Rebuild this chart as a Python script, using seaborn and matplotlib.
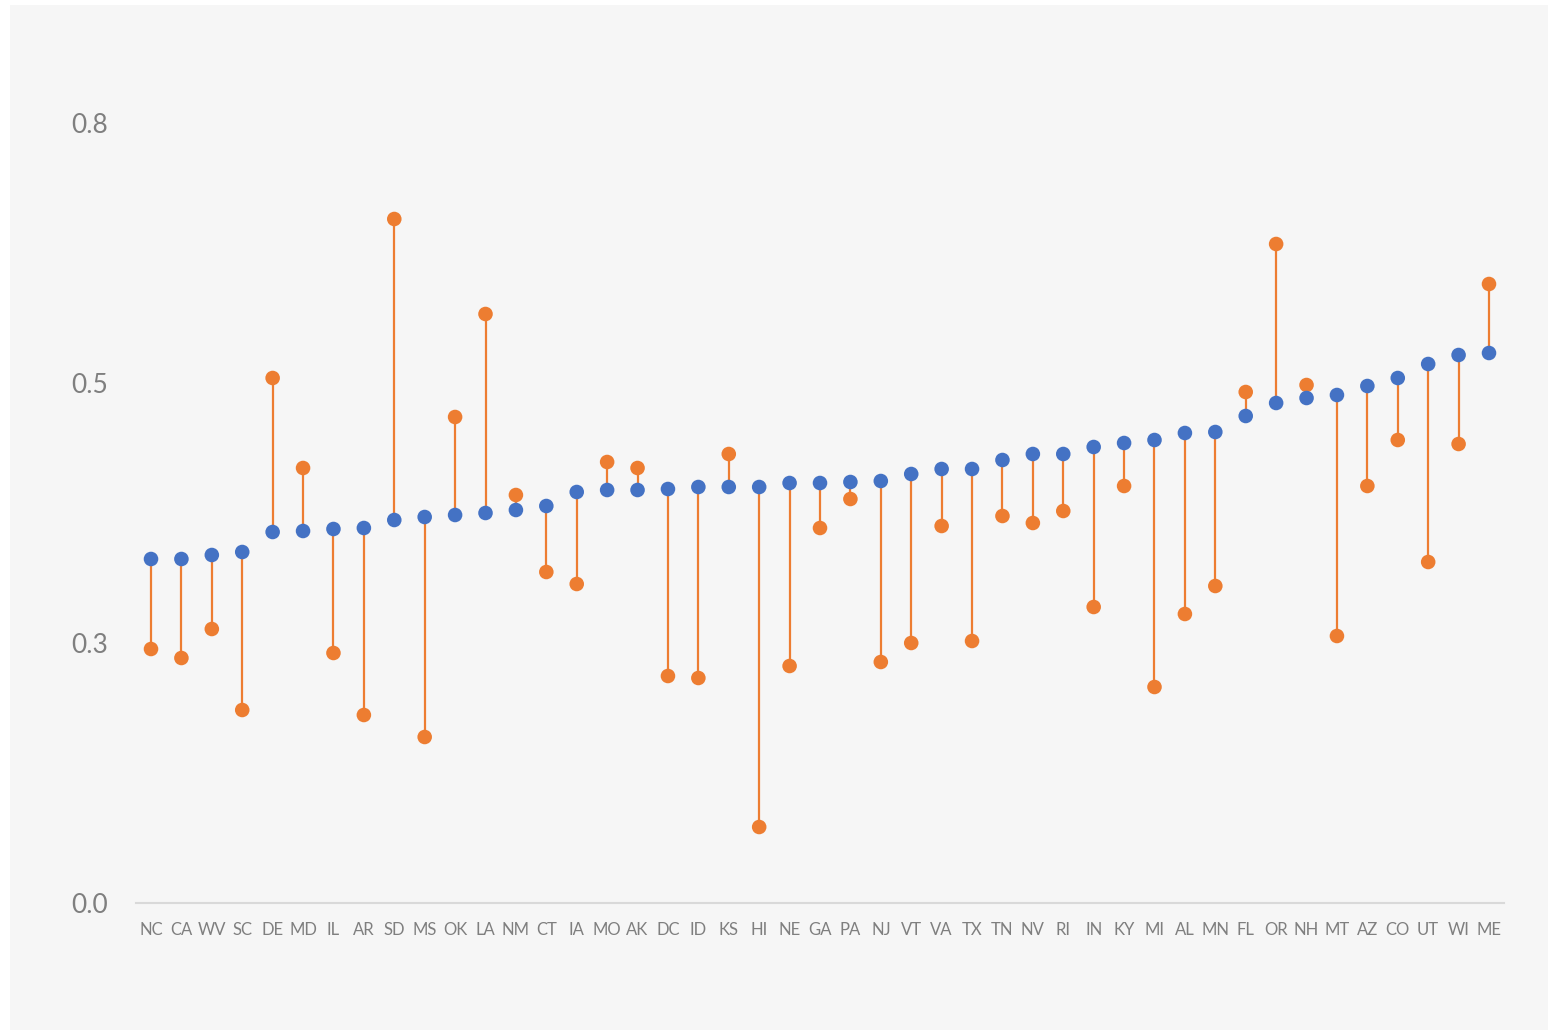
import numpy as np
import pandas as pd
import matplotlib
matplotlib.use("Agg")
import matplotlib.pyplot as plt
from matplotlib.patches import Rectangle
import seaborn as sns

states = ['NC', 'CA', 'WV', 'SC', 'DE', 'MD', 'IL', 'AR', 'SD', 'MS', 'OK', 'LA', 'NM',
          'CT', 'IA', 'MO', 'AK', 'DC', 'ID', 'KS', 'HI', 'NE', 'GA', 'PA', 'NJ', 'VT',
          'VA', 'TX', 'TN', 'NV', 'RI', 'IN', 'KY', 'MI', 'AL', 'MN', 'FL', 'OR', 'NH',
          'MT', 'AZ', 'CO', 'UT', 'WI', 'ME']
blue_vals = [0.344, 0.344, 0.348, 0.351, 0.371, 0.372, 0.374, 0.375, 0.383, 0.386, 0.388, 0.390, 0.393,
             0.397, 0.411, 0.413, 0.413, 0.414, 0.416, 0.416, 0.416, 0.420, 0.420, 0.421, 0.422, 0.429,
             0.434, 0.434, 0.443, 0.449, 0.449, 0.456, 0.460, 0.463, 0.470, 0.471, 0.487, 0.500, 0.505,
             0.508, 0.517, 0.525, 0.539, 0.548, 0.550]
orange_vals = [0.254, 0.245, 0.274, 0.193, 0.525, 0.435, 0.250, 0.188, 0.684, 0.166, 0.486, 0.589, 0.408,
               0.331, 0.319, 0.441, 0.435, 0.227, 0.225, 0.449, 0.076, 0.237, 0.375, 0.404, 0.241, 0.260,
               0.377, 0.262, 0.387, 0.380, 0.392, 0.296, 0.417, 0.216, 0.289, 0.317, 0.511, 0.659, 0.518,
               0.267, 0.417, 0.463, 0.341, 0.459, 0.619]
ytick_vals = [0.0, 0.26, 0.52, 0.78]

BLUE = '#4472C4'
ORANGE = '#ED7D31'
BG = '#F6F6F6'
GREY = '#7F7F7F'

df = pd.DataFrame({'state': states, 'blue': blue_vals, 'orange': orange_vals})
df['x'] = np.arange(len(df))

sns.set_style('white')
plt.rcParams['font.family'] = ['Lato', 'DejaVu Sans']

fig = plt.figure(figsize=(15.58, 10.36), dpi=100)
fig.patch.set_facecolor('white')
fig.patches.append(Rectangle((10 / 1558, 1 - 1030 / 1036), 1538 / 1558, 1025 / 1036,
                             transform=fig.transFigure, facecolor=BG, edgecolor='none', zorder=-5))

ax = fig.add_axes([135.8 / 1558, 1 - 903 / 1036, (1504.2 - 135.8) / 1558, 880 / 1036])
ax.set_facecolor('none')
ax.set_zorder(2)

ax.vlines(df['x'], df['blue'], df['orange'], color=ORANGE, linewidth=1.6, zorder=1)
sns.scatterplot(data=df, x='x', y='orange', color=ORANGE, s=110, edgecolor='none',
                linewidth=0, ax=ax, zorder=2)
sns.scatterplot(data=df, x='x', y='blue', color=BLUE, s=110, edgecolor='none',
                linewidth=0, ax=ax, zorder=3)

ax.set_xlim(-0.5, len(df) - 0.5)
ax.set_ylim(0, 0.88)
ax.set_xticks(df['x'])
ax.set_xticklabels(df['state'], fontsize=12, color=GREY)
ax.set_yticks(ytick_vals)
ax.set_yticklabels([f'{v:.1f}' for v in ytick_vals], fontsize=19, color=GREY)
ax.tick_params(axis='both', length=0)
ax.tick_params(axis='x', pad=14)
ax.tick_params(axis='y', pad=20)
ax.set_xlabel('')
ax.set_ylabel('')
for side in ['top', 'right', 'left']:
    ax.spines[side].set_visible(False)
ax.spines['bottom'].set_color('#D9D9D9')
ax.spines['bottom'].set_linewidth(1.5)

fig.savefig('out.png', dpi=100, facecolor='white')
